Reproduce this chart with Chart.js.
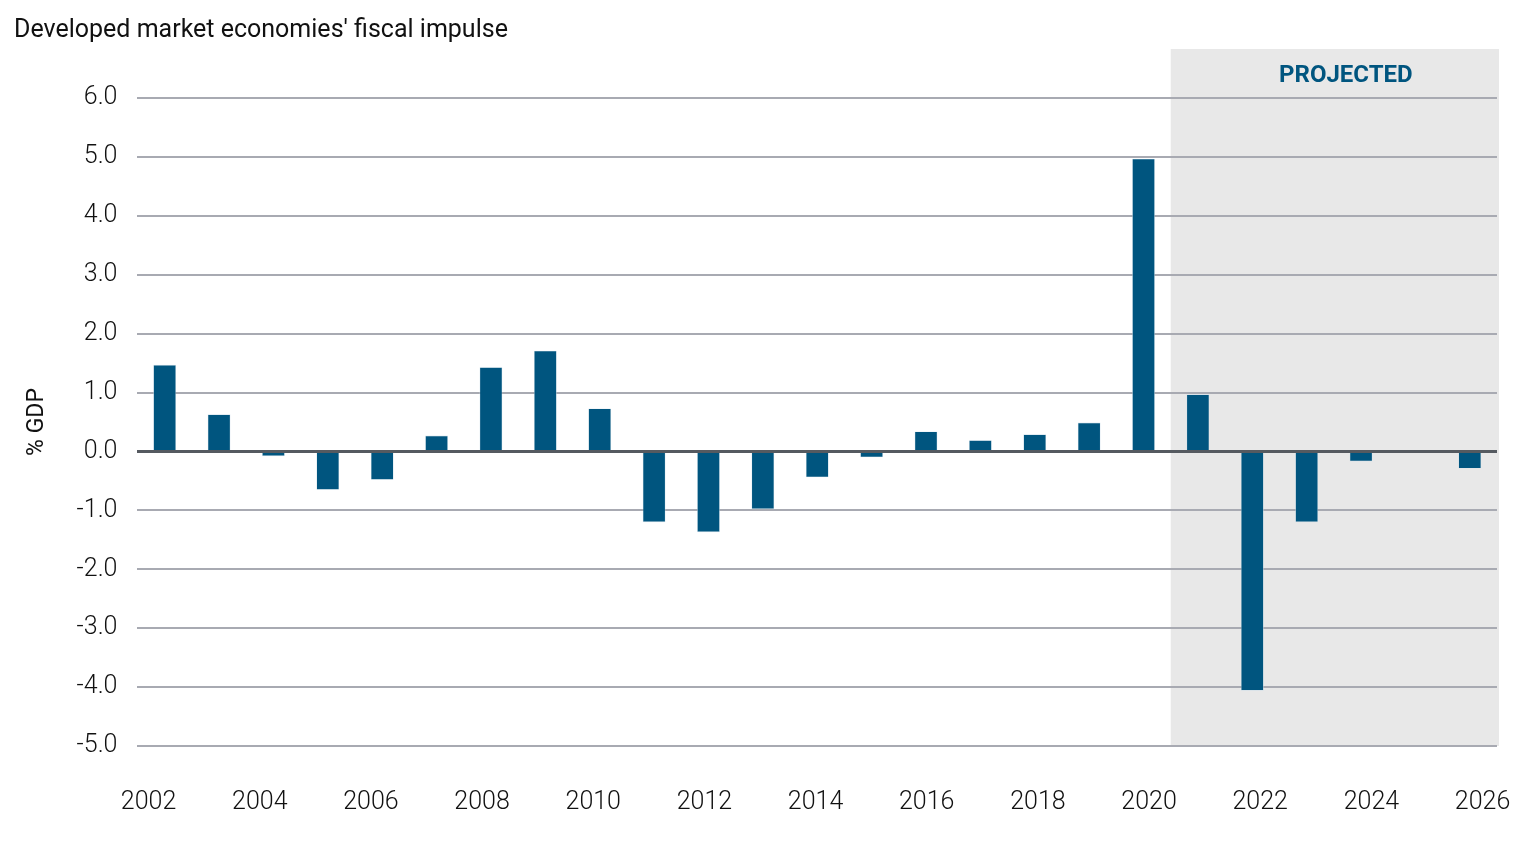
<!DOCTYPE html>
<html>
<head>
<meta charset="utf-8">
<script src="https://cdn.jsdelivr.net/npm/chart.js@4"></script>
<style>
  html, body { margin: 0; padding: 0; background: #fff; }
  #wrap { width: 1533px; height: 841px; }
</style>
</head>
<body>
<div id="wrap"><canvas id="myChart"></canvas></div>
<script>
const years = ['2002', '2003', '2004', '2005', '2006', '2007', '2008', '2009', '2010', '2011', '2012', '2013',
    '2014', '2015', '2016', '2017', '2018', '2019', '2020', '2021', '2022', '2023', '2024', '2025', '2026'];
const impulse = [1.47, 0.63, -0.08, -0.65, -0.48, 0.27, 1.43, 1.71, 0.73, -1.2, -1.37, -0.98,
    -0.44, -0.1, 0.34, 0.19, 0.29, 0.49, 4.97, 0.97, -4.06, -1.2, -0.17, 0, -0.29];
const yearTicks = [2002, 2004, 2006, 2008, 2010, 2012, 2014, 2016, 2018, 2020, 2022, 2024, 2026];
const yTicks = [6, 5, 4, 3, 2, 1, 0, -1, -2, -3, -4, -5];
const projectedFrom = '2021';

const fontFamily = "Roboto, 'DejaVu Sans Condensed', sans-serif";

// grey box behind the projected years, with its label
const projectedBox = {
    id: 'projectedBox',
    beforeDraw(chart) {
        const { ctx, chartArea, scales } = chart;
        const x = scales.x;
        const i = years.indexOf(projectedFrom);
        const left = (x.getPixelForValue(i - 1) + x.getPixelForValue(i)) / 2;
        const top = scales.y.getPixelForValue(6) - 49;
        ctx.save();
        ctx.fillStyle = '#e8e8e8';
        ctx.fillRect(left, top, chartArea.right + 2 - left, chartArea.bottom - top);
        ctx.restore();
    },
    afterDatasetsDraw(chart) {
        const { ctx, chartArea, scales } = chart;
        const x = scales.x;
        const i = years.indexOf(projectedFrom);
        const left = (x.getPixelForValue(i - 1) + x.getPixelForValue(i)) / 2;
        ctx.save();
        ctx.fillStyle = '#00557f';
        ctx.font = "bold 24px " + fontFamily;
        ctx.textAlign = 'center';
        ctx.textBaseline = 'middle';
        ctx.fillText('PROJECTED', (left + chartArea.right) / 2 + 12, scales.y.getPixelForValue(6) - 22);
        ctx.restore();
    }
};

new Chart(document.getElementById('myChart'), {
    type: 'bar',
    data: {
        labels: years,
        datasets: [{
            label: 'Fiscal impulse',
            data: impulse,
            backgroundColor: '#00557f',
            borderColor: '#cfe0ea',
            borderWidth: 0.6,
            categoryPercentage: 0.84,
            barPercentage: 0.5
        }]
    },
    options: {
        responsive: true,
        maintainAspectRatio: false,
        animation: false,
        layout: { padding: { top: 16, right: 36, left: 14, bottom: -11 } },
        plugins: {
            legend: { display: false },
            tooltip: { enabled: false },
            title: {
                display: true,
                text: "Developed market economies' fiscal impulse",
                align: 'start',
                color: '#111',
                font: { family: fontFamily, size: 25, weight: '400' },
                padding: { top: 0, bottom: 52 }
            }
        },
        scales: {
            x: {
                display: false
            },
            years: {
                type: 'linear',
                position: 'bottom',
                offset: false,
                min: 2001.8,
                max: 2026.26,
                afterBuildTicks(axis) { axis.ticks = yearTicks.map(v => ({ value: v })); },
                afterFit(axis) { axis.paddingRight = 0; },
                grid: { display: false, offset: false },
                border: { display: false },
                ticks: {
                    color: '#111',
                    padding: 34,
                    font: { family: fontFamily, size: 25, weight: '300' },
                    callback: v => String(v)
                }
            },
            y: {
                min: -5,
                max: 6,
                afterBuildTicks(axis) { axis.ticks = yTicks.map(v => ({ value: v })); },
                border: { display: false },
                grid: {
                    color: ctx => ctx.tick && ctx.tick.value === 0 ? '#555a60' : '#a8aab2',
                    lineWidth: ctx => ctx.tick && ctx.tick.value === 0 ? 3 : 2,
                    drawTicks: false
                },
                ticks: {
                    color: '#111',
                    padding: 20,
                    font: { family: fontFamily, size: 25, weight: '300' },
                    callback: v => v.toFixed(1)
                },
                title: {
                    display: true,
                    text: '% GDP',
                    color: '#111',
                    font: { family: fontFamily, size: 23, weight: '400' },
                    padding: { top: 9, bottom: 6 }
                }
            }
        }
    },
    plugins: [projectedBox]
});
</script>
</body>
</html>
